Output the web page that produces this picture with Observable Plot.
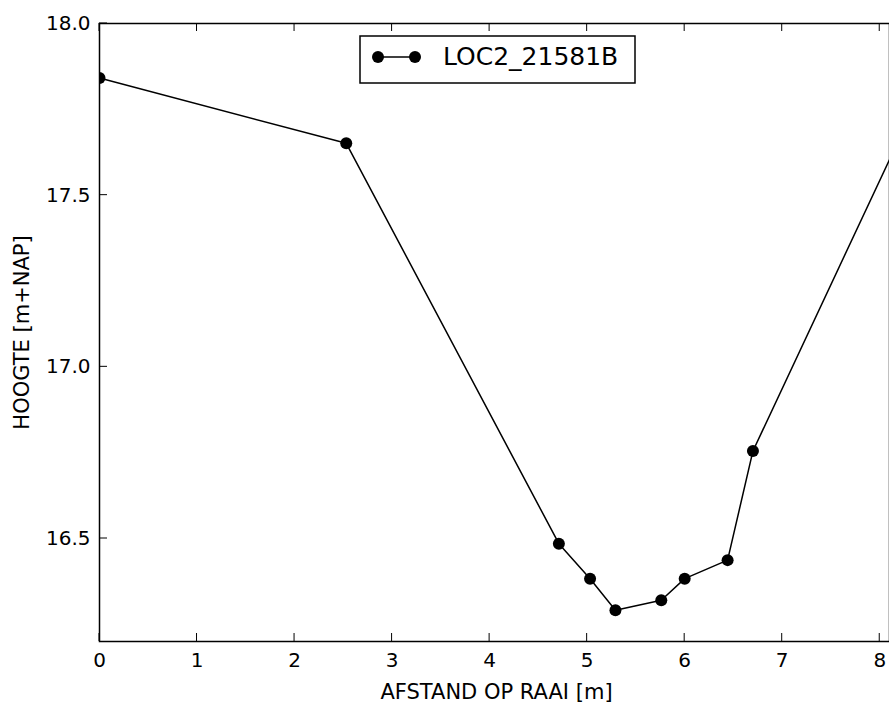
<!DOCTYPE html>
<html>
<head>
<meta charset="utf-8">
<script src="https://cdn.jsdelivr.net/npm/d3@7"></script>
<script src="https://cdn.jsdelivr.net/npm/@observablehq/plot@0.6"></script>
<style>
  html, body { margin: 0; padding: 0; background: #fff; overflow: hidden; }
  svg { display: block; }
</style>
</head>
<body>
<div id="chart"></div>
<script>
const seriesName = "LOC2_21581B";
const afstand = [0, 2.53, 4.71, 5.03, 5.29, 5.76, 6.0, 6.44, 6.70, 8.5];
const hoogte = [17.841, 17.651, 16.485, 16.383, 16.291, 16.320, 16.383, 16.437, 16.755, 17.846];
const xTicks = [0, 1, 2, 3, 4, 5, 6, 7, 8];
const yTicks = [16.5, 17.0, 17.5, 18.0];
const xLabel = "AFSTAND OP RAAI [m]";
const yLabel = "HOOGTE [m+NAP]";

const data = afstand.map((x, i) => ({x, y: hoogte[i]}));
const font = "'DejaVu Sans', sans-serif";

const W = 889, H = 707, ML = 99, MR = 0, MT = 23, MB = 66;
const xDomain = [0, 8.1], yDomain = [16.2, 18.0];
const tickLen = 8;

const chart = Plot.plot({
  width: W,
  height: H,
  marginLeft: ML,
  marginRight: MR,
  marginTop: MT,
  marginBottom: MB,
  style: {fontFamily: font, fontSize: "20px", color: "black", background: "white"},
  x: {domain: xDomain},
  y: {domain: yDomain},
  marks: [
    Plot.line(data, {x: "x", y: "y", stroke: "black", strokeWidth: 1.5, clip: true}),
    Plot.dot(data, {x: "x", y: "y", r: 6, fill: "black", stroke: "none", clip: true}),
    Plot.axisX({ticks: xTicks, tickSize: 0, tickPadding: 11, tickFormat: d => String(d), label: null, fontSize: 20}),
    Plot.axisY({ticks: yTicks, tickSize: 0, tickPadding: 9, tickFormat: d3.format(".1f"), label: null, fontSize: 20}),
    Plot.frame({stroke: "black", strokeWidth: 1.5}),
    Plot.text([xLabel], {text: d => d, frameAnchor: "bottom", textAnchor: "middle", lineAnchor: "bottom", dy: 57, dx: 2, fontSize: 21, fill: "black"}),
    Plot.text([yLabel], {text: d => d, frameAnchor: "left", textAnchor: "middle", rotate: -90, dx: -77, fontSize: 21, fill: "black"})
  ]
});

document.getElementById("chart").appendChild(chart);

const svgSel = d3.select(chart);
const sx = chart.scale("x"), sy = chart.scale("y");
const frameTop = sy.apply(yDomain[1]), frameBottom = sy.apply(yDomain[0]);
const frameLeft = sx.apply(xDomain[0]);

// Inward ticks (matplotlib classic style) on bottom, top and left spines
const tg = svgSel.append("g").attr("stroke", "black").attr("stroke-width", 1);
tg.selectAll("line.xb").data(xTicks).join("line").attr("class", "xb")
  .attr("x1", d => sx.apply(d)).attr("x2", d => sx.apply(d))
  .attr("y1", frameBottom).attr("y2", frameBottom - tickLen);
tg.selectAll("line.xt").data(xTicks).join("line").attr("class", "xt")
  .attr("x1", d => sx.apply(d)).attr("x2", d => sx.apply(d))
  .attr("y1", frameTop).attr("y2", frameTop + tickLen);
tg.selectAll("line.yl").data(yTicks).join("line").attr("class", "yl")
  .attr("x1", frameLeft).attr("x2", frameLeft + tickLen)
  .attr("y1", d => sy.apply(d)).attr("y2", d => sy.apply(d));

// Legend (matplotlib-style box inside the axes)
const lg = svgSel.append("g").attr("class", "legend");
lg.append("rect").attr("x", 360).attr("y", 36).attr("width", 275).attr("height", 47)
  .attr("fill", "white").attr("stroke", "black").attr("stroke-width", 1.5);
lg.append("line").attr("x1", 378).attr("x2", 415).attr("y1", 57).attr("y2", 57)
  .attr("stroke", "black").attr("stroke-width", 1.5);
lg.selectAll("circle").data([378, 415]).join("circle")
  .attr("cx", d => d).attr("cy", 57).attr("r", 6).attr("fill", "black");
lg.append("text").attr("x", 443).attr("y", 65).attr("font-size", 25)
  .attr("text-anchor", "start")
  .attr("font-family", font).attr("fill", "black").text(seriesName);
</script>
</body>
</html>
